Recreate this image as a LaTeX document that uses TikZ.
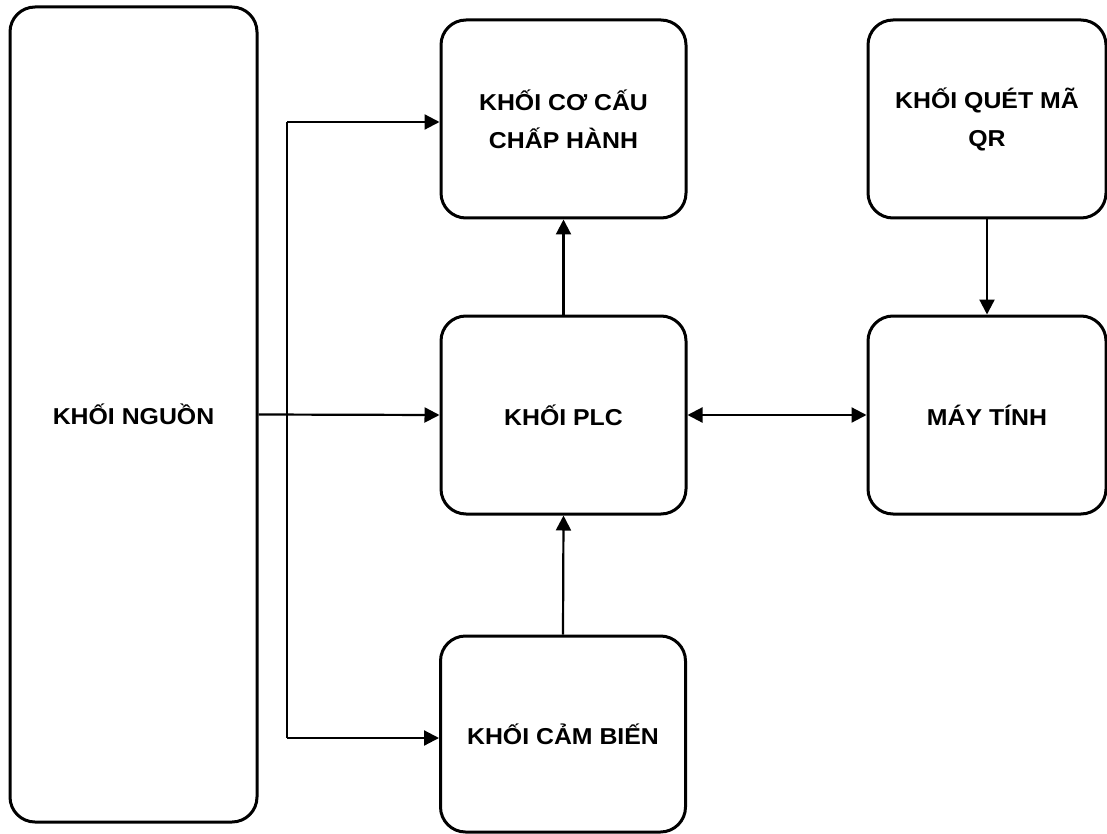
\documentclass[tikz,border=0pt]{standalone}
\usepackage{fontspec}
\setmainfont{Liberation Sans}[FakeStretch=1.08]
\usetikzlibrary{arrows.meta}
\tikzset{
  blk/.style={draw, line width=3pt, rounded corners=25pt, align=center,
    font=\fontsize{23}{38}\selectfont\bfseries, inner sep=0pt},
  conn/.style={line width=2.2pt},
  arr/.style={conn, -{Triangle[length=15pt,width=15pt]}},
  darr/.style={conn, {Triangle[length=15pt,width=15pt]}-{Triangle[length=15pt,width=15pt]}}
}
\begin{document}
\begin{tikzpicture}[x=1pt,y=-1pt]
\useasboundingbox (0,0) rectangle (1107,834);
\node[blk, minimum width=247pt, minimum height=815pt] (ng) at (133.5,414.5) {KHỐI NGUỒN};
\node[blk, minimum width=245pt, minimum height=198pt] (cc) at (563.5,119) {KHỐI CƠ CẤU\\CHẤP HÀNH};
\node[blk, minimum width=245pt, minimum height=198pt] (plc) at (563.5,415) {KHỐI PLC};
\node[blk, minimum width=245pt, minimum height=196pt] (cb) at (563,734) {KHỐI CẢM BIẾN};
\node[blk, minimum width=238pt, minimum height=198pt] (qr) at (987,119) {KHỐI QUÉT MÃ\\QR};
\node[blk, minimum width=238pt, minimum height=198pt] (mt) at (987,415) {MÁY TÍNH};
\coordinate (jt) at (287,122);
\coordinate (jb) at (287,738);
\draw[arr] (ng.east) -- (plc.west);
\draw[conn] (jt) -- (jb);
\draw[arr] (jt) -- (jt -| cc.west);
\draw[arr] (jb) -- (jb -| cb.west);
\draw[arr] (plc.north) -- (cc.south);
\draw[arr] (cb.north) -- (plc.south);
\draw[darr] (plc.east) -- (mt.west);
\draw[arr] (qr.south) -- (mt.north);
\end{tikzpicture}
\end{document}
